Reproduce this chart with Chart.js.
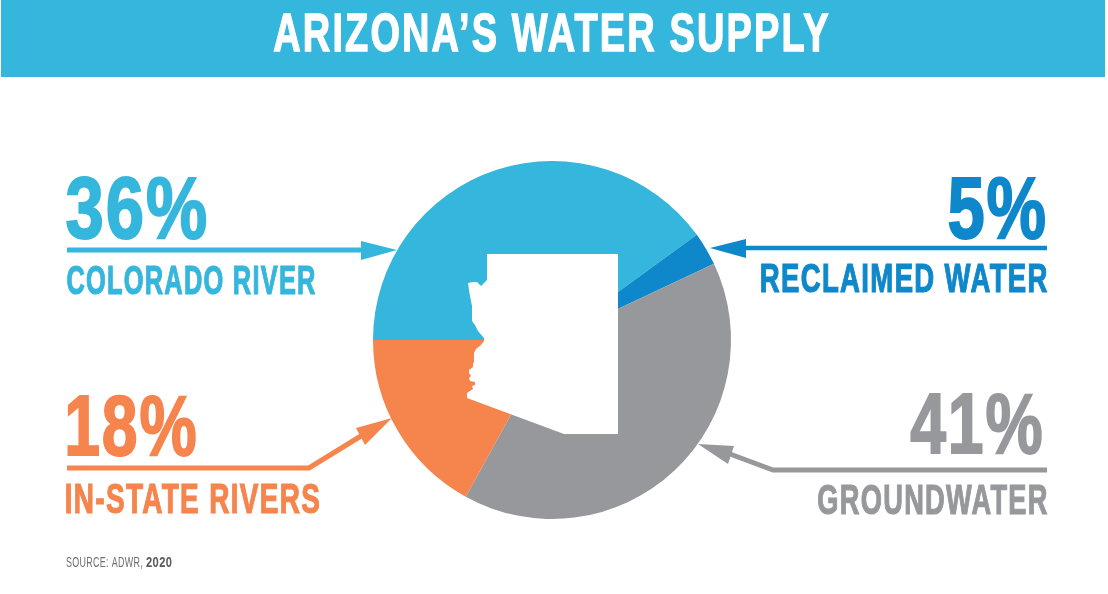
<!DOCTYPE html>
<html><head><meta charset="utf-8">
<style>html,body{margin:0;padding:0;background:#fff;overflow:hidden}canvas{display:block}</style>
<script src="https://cdn.jsdelivr.net/npm/chart.js@4"></script>
</head><body>
<canvas id="c" width="1108" height="594"></canvas>
<script>
const categories = ["Colorado River", "Reclaimed Water", "Groundwater", "In-State Rivers"];
// Shares of the circle as they are drawn in the picture
const drawnShares = [40, 3, 40, 17];
// Percentages printed beside the pie
const printedPercents = ["36%", "5%", "41%", "18%"];
const categoryLabels = ["COLORADO RIVER", "RECLAIMED WATER", "GROUNDWATER", "IN-STATE RIVERS"];
const sliceColors = ["#35b6dc", "#0f87cb", "#97989c", "#f5844d"];
const titleText = "ARIZONA\u2019S WATER SUPPLY";
const sourceText = "SOURCE: ADWR,";
const sourceYear = "2020";

const FONT = '"Liberation Sans Narrow","Liberation Sans",sans-serif';

function fitText(ctx, text, left, right, capTop, baseline, color, weight, heavy, spacing) {
  ctx.save();
  ctx.font = weight + " 100px " + FONT;
  const cap = ctx.measureText("H").actualBoundingBoxAscent;
  const inset = (heavy || 0) / 2;
  const size = 100 * (baseline - capTop - 2 * inset) / cap;
  ctx.font = weight + " " + size + "px " + FONT;
  ctx.letterSpacing = (spacing || 0) + "px";
  const m = ctx.measureText(text);
  const w = m.actualBoundingBoxLeft + m.actualBoundingBoxRight;
  const sx = (right - left) / w;
  ctx.translate(left + m.actualBoundingBoxLeft * sx, baseline - inset);
  ctx.scale(sx, 1);
  ctx.fillStyle = color;
  ctx.textAlign = "left";
  ctx.textBaseline = "alphabetic";
  ctx.fillText(text, 0, 0);
  if (heavy) { ctx.strokeStyle = color; ctx.lineWidth = heavy; ctx.lineJoin = "miter"; ctx.strokeText(text, 0, 0); }
  ctx.restore();
}

function leader(ctx, color, width, points, head) {
  ctx.save();
  ctx.strokeStyle = color; ctx.fillStyle = color; ctx.lineWidth = width; ctx.lineJoin = "miter";
  ctx.beginPath();
  points.forEach((p, i) => i ? ctx.lineTo(p[0], p[1]) : ctx.moveTo(p[0], p[1]));
  ctx.stroke();
  ctx.beginPath();
  head.forEach((p, i) => i ? ctx.lineTo(p[0], p[1]) : ctx.moveTo(p[0], p[1]));
  ctx.closePath(); ctx.fill();
  ctx.restore();
}

const decorations = {
  id: "decorations",
  beforeDraw(chart) {
    const ctx = chart.ctx;
    ctx.save();
    ctx.fillStyle = "#fff"; ctx.fillRect(0, 0, 1108, 594);
    ctx.fillStyle = sliceColors[0]; ctx.fillRect(1, 0, 1104, 77);
    ctx.restore();
  },
  afterDraw(chart) {
    const ctx = chart.ctx;
    // White state outline over the pie
    const state = [[487,254],[618,254],[618,434],[564,434],[467,398],[467,393],[473,389],[472,386],[475,385],[475,382],[470,381],[469,378],[471,376],[469,373],[469,370],[473,367],[473,364],[474,362],[474,353],[476,349],[481,345],[484,341],[484,338],[478,331],[475,325],[472,321],[472,314],[472,306],[470,296],[469,290],[468,283],[473,282],[477,282],[481,286],[484,283],[487,280]];
    ctx.save();
    ctx.fillStyle = "#fff";
    ctx.beginPath();
    state.forEach((p, i) => i ? ctx.lineTo(p[0], p[1]) : ctx.moveTo(p[0], p[1]));
    ctx.closePath(); ctx.fill();
    ctx.restore();

    fitText(ctx, titleText, 274, 828, 13, 52, "#fff", "bold", 1.4, 3);

    fitText(ctx, printedPercents[0], 67, 206, 176, 239, sliceColors[0], "bold", 2, 2.5);
    fitText(ctx, categoryLabels[0], 67, 315, 265, 295, sliceColors[0], "bold", 1.2, 2);
    leader(ctx, sliceColors[0], 5, [[67,250],[364,250]], [[361,241],[397,250],[361,260]]);

    fitText(ctx, printedPercents[1], 949, 1045, 176, 239, sliceColors[1], "bold", 2, 2.5);
    fitText(ctx, categoryLabels[1], 761, 1047, 263, 293, sliceColors[1], "bold", 1.2, 2);
    leader(ctx, sliceColors[1], 4.5, [[1047,248],[744,248]], [[746,239],[710,248],[746,258]]);

    fitText(ctx, printedPercents[2], 911, 1041, 392, 454, sliceColors[2], "bold", 2, 2.5);
    fitText(ctx, categoryLabels[2], 818, 1047, 484, 515, sliceColors[2], "bold", 1.2, 2);
    leader(ctx, sliceColors[2], 5, [[1047,470],[773,470],[730,454]], [[734,446],[698,444],[728,464]]);

    fitText(ctx, printedPercents[3], 68, 195, 394, 456, sliceColors[3], "bold", 2, 2.5);
    fitText(ctx, categoryLabels[3], 66, 319, 483, 514, sliceColors[3], "bold", 1.2, 2);
    leader(ctx, sliceColors[3], 5, [[67,468],[309,468],[361,436]], [[356,428],[392,418],[365,445]]);

    fitText(ctx, sourceText, 66, 142, 557, 567, "#6d6e71", "normal", 0, 0.5);
    fitText(ctx, sourceYear, 146, 172, 557, 567, "#58595b", "bold", 0, 0.5);
  }
};

new Chart(document.getElementById("c"), {
  type: "pie",
  data: {
    labels: categories,
    datasets: [{ data: drawnShares, backgroundColor: sliceColors, borderWidth: 0, hoverOffset: 0 }]
  },
  options: {
    responsive: false,
    animation: false,
    rotation: -90,
    layout: { padding: { left: 373, right: 377, top: 161, bottom: 75 } },
    plugins: { legend: { display: false }, tooltip: { enabled: false } }
  },
  plugins: [decorations]
});
</script>
</body></html>
